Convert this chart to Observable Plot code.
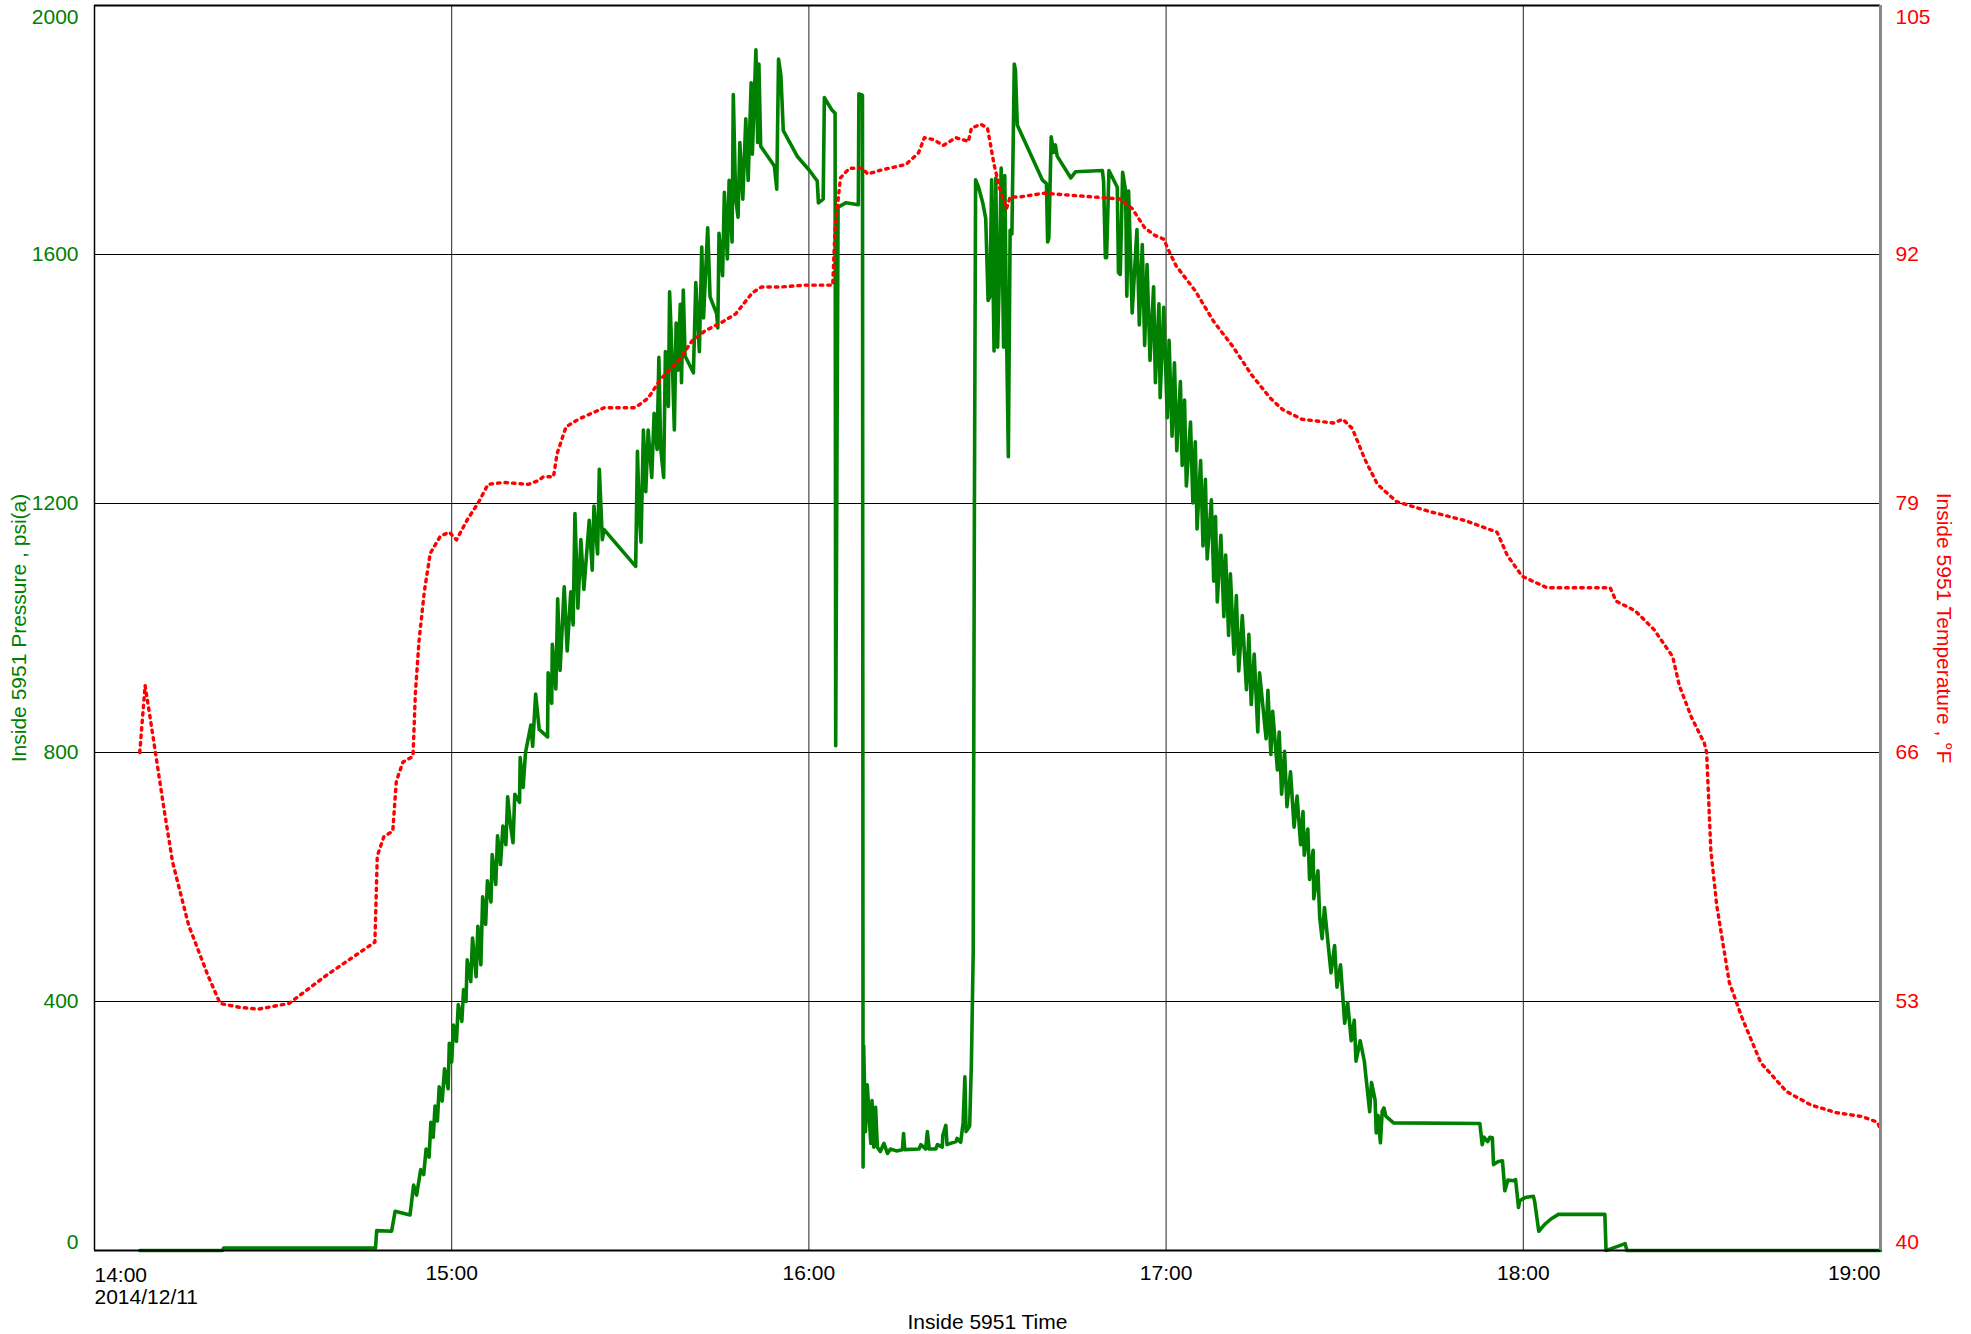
<!DOCTYPE html>
<html>
<head>
<meta charset="utf-8">
<script src="https://cdn.jsdelivr.net/npm/d3@7"></script>
<script src="https://cdn.jsdelivr.net/npm/@observablehq/plot@0.6"></script>
<style>
  html, body { margin: 0; padding: 0; background: #fff; }
  #chart svg { display: block; }
</style>
</head>
<body>
<div id="chart"></div>
<script>
// ---- data (minutes after 14:00 on 2014/12/11) ----
const pressureSeries = [ // [minute, psi(a)]
  [7.6,0],[21.5,0],[21.7,4],[47.2,4],[47.4,32],[49.9,31],[50.5,63],[53.0,57],[53.6,105],[54.1,89],
  [54.8,130],[55.3,122],[55.7,163],[56.2,150],[56.5,206],[56.9,182],[57.2,232],[57.6,208],[57.9,263],[58.4,240],
  [58.8,292],[59.4,260],[59.6,333],[60.0,303],[60.3,362],[60.8,336],[61.1,395],[61.7,368],[62.0,419],[62.4,400],
  [62.6,467],[63.2,432],[63.5,502],[64.1,440],[64.4,521],[64.9,459],[65.2,568],[65.7,524],[66.0,594],[66.6,560],
  [66.8,636],[67.4,588],[67.7,666],[68.2,620],[68.6,682],[69.1,652],[69.4,729],[69.9,682],[70.3,655],[70.6,733],
  [71.4,720],[71.5,792],[72.0,744],[72.4,800],[73.3,844],[73.6,810],[74.1,894],[74.7,837],[76.1,825],[76.2,928],
  [76.8,879],[76.9,974],[77.5,902],[77.8,1047],[78.2,932],[78.9,1066],[79.4,963],[80.0,1058],[80.4,1005],[80.7,1184],
  [81.2,1032],[81.7,1142],[82.2,1062],[83.1,1173],[83.6,1093],[83.9,1196],[84.5,1119],[84.8,1255],[85.3,1142],[85.6,1158],
  [90.9,1099],[91.2,1284],[91.5,1184],[91.8,1138],[92.2,1318],[92.6,1219],[93.0,1318],[93.6,1242],[94.0,1345],[94.5,1287],
  [94.8,1435],[95.1,1290],[95.6,1242],[95.9,1444],[96.4,1356],[96.6,1540],[97.1,1414],[97.4,1318],[97.7,1490],[98.0,1414],
  [98.4,1520],[98.6,1394],[98.9,1543],[99.2,1437],[100.6,1410],[101.0,1555],[101.6,1444],[102.0,1612],[102.3,1498],[103.0,1643],
  [103.4,1532],[104.5,1505],[104.7,1482],[104.9,1634],[105.5,1566],[105.8,1700],[106.3,1593],[106.6,1719],[107.1,1620],[107.3,1857],
  [107.7,1689],[108.1,1660],[108.4,1780],[108.9,1689],[109.4,1818],[109.8,1719],[110.3,1876],[110.5,1761],[111.1,1929],[111.4,1780],
  [111.6,1906],[111.9,1774],[114.2,1742],[114.6,1705],[114.9,1914],[115.3,1887],[115.7,1799],[118.1,1757],[120.1,1735],[121.4,1718],
  [121.6,1683],[122.4,1689],[122.6,1852],[123.8,1833],[124.4,1827],[124.5,811],[124.9,1676],[126.2,1683],[128.3,1680],[128.4,1858],
  [129.0,1856],[129.1,134],[129.2,329],[129.5,191],[129.8,266],[130.4,172],[130.6,241],[130.9,166],[131.2,230],[131.5,166],
  [132.0,159],[132.6,172],[133.2,156],[133.7,163],[134.7,160],[135.7,162],[135.9,188],[136.1,162],[138.5,163],[138.8,170],
  [139.6,163],[139.9,191],[140.2,163],[141.3,163],[141.6,170],[142.4,166],[142.5,185],[143.0,201],[143.2,170],[144.7,175],
  [144.9,180],[145.5,174],[145.9,205],[146.2,279],[146.4,191],[147.0,200],[147.3,303],[147.6,479],[147.8,1194],[148.0,1720],
  [148.5,1708],[149.2,1683],[149.7,1658],[150.1,1526],[150.4,1532],[150.7,1720],[151.1,1445],[151.4,1723],[151.7,1451],[152.0,1570],
  [152.3,1739],[152.7,1451],[152.9,1727],[153.2,1476],[153.5,1275],[153.8,1639],[154.1,1633],[154.5,1906],[154.7,1896],[155.0,1808],
  [155.9,1789],[159.2,1720],[159.9,1714],[160.1,1620],[160.3,1626],[160.7,1789],[161.1,1764],[161.4,1776],[161.7,1758],[164.0,1723],
  [164.8,1733],[169.3,1735],[169.5,1717],[169.8,1595],[170.0,1595],[170.4,1735],[171.8,1708],[172.0,1571],[172.3,1568],[172.7,1732],
  [173.2,1702],[173.4,1533],[173.7,1702],[174.3,1506],[175.1,1640],[175.5,1487],[176.0,1616],[176.4,1454],[176.8,1584],[177.3,1430],
  [177.9,1548],[178.2,1394],[178.8,1521],[179.0,1370],[179.6,1515],[180.2,1338],[180.5,1462],[181.0,1308],[181.4,1426],[181.8,1285],
  [182.4,1396],[182.7,1261],[183.1,1366],[183.4,1228],[184.1,1331],[184.5,1201],[184.9,1299],[185.2,1159],[185.8,1269],[186.2,1132],
  [186.6,1239],[186.9,1111],[187.6,1206],[188.0,1075],[188.3,1179],[188.6,1042],[189.2,1149],[189.7,1018],[190.0,1117],[190.5,988],
  [190.8,1087],[191.4,958],[191.8,1052],[192.2,931],[192.8,1020],[193.5,901],[193.9,990],[194.3,877],[194.8,958],[195.4,833],
  [195.7,928],[196.8,822],[197.1,900],[197.6,797],[197.9,866],[198.7,772],[199.0,833],[199.4,733],[199.9,802],[200.3,713],
  [200.9,769],[201.5,680],[202.0,730],[202.6,652],[203.0,705],[203.2,635],[203.8,677],[204.1,596],[204.7,643],[204.8,565],
  [205.5,610],[205.8,535],[206.2,501],[206.6,551],[207.7,446],[208.3,490],[208.7,423],[209.3,459],[210.0,365],[210.5,398],
  [211.1,337],[211.6,370],[211.9,304],[212.6,337],[213.3,304],[213.6,276],[214.2,223],[214.5,270],[215.1,242],[215.3,189],
  [215.6,217],[216.0,173],[216.3,224],[216.6,229],[216.9,216],[218.2,205],[232.7,204],[233.1,170],[233.4,182],[234.0,175],
  [234.4,182],[234.8,181],[235.0,138],[235.8,143],[236.5,144],[236.9,96],[237.4,113],[238.3,112],[238.7,114],[239.2,69],
  [239.4,80],[240.3,85],[241.7,87],[241.9,79],[242.6,31],[243.6,42],[244.7,51],[245.9,58],[253.7,58],[253.9,0],
  [254.8,3],[257.1,11],[257.4,0],[300.0,0]
];

const temperatureSeries = [ // [minute, °F]
  [7.6,66.0],[8.5,69.5],[9.5,67.5],[11.6,63.2],[13.1,60.3],[15.8,57.0],[19.0,54.4],[21.1,52.9],[24.3,52.7],[27.5,52.6],
  [32.7,52.9],[39.1,54.4],[47.1,56.1],[47.5,60.6],[48.6,61.6],[50.1,61.9],[50.7,64.5],[51.8,65.5],[53.5,65.8],[53.9,69.1],
  [54.5,71.8],[55.4,74.4],[56.4,76.4],[58.1,77.3],[59.6,77.5],[60.8,77.1],[62.7,78.2],[64.4,79.0],[66.1,80.0],[68.7,80.1],
  [72.9,80.0],[74.6,80.2],[75.4,80.4],[77.1,80.4],[77.7,81.6],[79.2,83.0],[81.3,83.4],[85.6,84.0],[90.8,84.0],[93.0,84.5],
  [95.1,85.5],[98.2,86.5],[100.4,87.5],[102.5,88.0],[105.6,88.5],[107.7,88.9],[110.5,90.0],[112.0,90.3],[115.1,90.3],[119.3,90.4],
  [124.0,90.4],[124.4,93.4],[125.3,96.0],[126.8,96.5],[128.9,96.5],[129.9,96.2],[132.0,96.4],[136.3,96.7],[138.4,97.3],[139.4,98.1],
  [140.9,98.0],[142.6,97.7],[144.7,98.1],[146.8,97.9],[147.3,98.6],[148.9,98.8],[150.0,98.6],[151.1,96.7],[152.1,95.4],[153.2,94.4],
  [153.8,95.0],[155.3,95.0],[159.5,95.2],[163.7,95.1],[168.0,95.0],[172.2,94.9],[174.3,94.4],[176.4,93.4],[178.1,93.0],[179.6,92.8],
  [180.6,92.1],[181.7,91.4],[184.9,90.1],[188.0,88.5],[191.2,87.2],[194.4,85.7],[197.5,84.5],[199.6,83.9],[202.8,83.4],[208.1,83.2],
  [209.7,83.4],[211.3,82.9],[213.4,81.3],[215.5,80.0],[218.7,79.1],[224.0,78.6],[230.3,78.1],[235.6,77.5],[237.3,76.3],[239.8,75.2],
  [244.0,74.6],[254.6,74.6],[255.6,73.9],[258.8,73.4],[262.0,72.4],[265.1,71.0],[266.2,69.5],[268.3,67.8],[270.4,66.5],[270.8,66.0],
  [271.5,60.9],[272.5,58.0],[274.6,54.0],[276.8,52.1],[279.9,49.8],[284.2,48.3],[288.3,47.6],[292.5,47.2],[296.8,47.0],[299.5,46.7],
  [300.0,46.3]
];

const pressureTicks = [0, 400, 800, 1200, 1600, 2000];
const temperatureTicks = [40, 53, 66, 79, 92, 105];
const timeTickHours = [14, 15, 16, 17, 18, 19];
const timeTickLabels = ["14:00\n2014/12/11", "15:00", "16:00", "17:00", "18:00", "19:00"];

const xTitle = "Inside 5951 Time";
const yLeftTitle = "Inside 5951 Pressure , psi(a)";
const yRightTitle = "Inside 5951 Temperature , °F";

// ---- helpers ----
const t0 = Date.UTC(2014, 11, 11, 14, 0);
const atMinute = m => new Date(t0 + m * 60000);
const atHour = h => new Date(Date.UTC(2014, 11, 11, h, 0));
// right axis (40..105 °F) shares the plot height with left axis (0..2000 psi)
const tMin = temperatureTicks[0], tMax = temperatureTicks[temperatureTicks.length - 1];
const pMax = pressureTicks[pressureTicks.length - 1];
const tempToY = t => (t - tMin) / (tMax - tMin) * pMax;

const GREEN = "#008000", RED = "#ff0000";
const timeTicks = timeTickHours.map(atHour);
const timeLabel = new Map(timeTicks.map((d, i) => [+d, timeTickLabels[i]]));

const chart = Plot.plot({
  width: 1971,
  height: 1334,
  marginLeft: 94,
  marginRight: 91,
  marginTop: 5,
  marginBottom: 84,
  style: { fontFamily: "'Liberation Sans', Arial, sans-serif", fontSize: "21px", background: "#fff", overflow: "visible" },
  x: { type: "utc", domain: [timeTicks[0], timeTicks[timeTicks.length - 1]], axis: null },
  y: { domain: [0, pMax], axis: null },
  marks: [
    Plot.gridY(pressureTicks.slice(1, -1), { stroke: "#000", strokeOpacity: 1, strokeWidth: 1 }),
    Plot.gridX(timeTicks.slice(1, -1), { stroke: "#222", strokeOpacity: 1, strokeWidth: 1 }),
    Plot.line(pressureSeries, { x: d => atMinute(d[0]), y: d => d[1], stroke: GREEN, strokeWidth: 3.6, strokeLinejoin: "round" }),
    Plot.line(temperatureSeries, { x: d => atMinute(d[0]), y: d => tempToY(d[1]), stroke: RED, strokeWidth: 3.4, strokeDasharray: "2.5,5", strokeLinecap: "round" }),
    // frame
    Plot.ruleY([0], { stroke: "#000", strokeWidth: 2 }),
    Plot.ruleY([pMax], { stroke: "#000", strokeWidth: 2 }),
    Plot.ruleX([timeTicks[0]], { stroke: "#000", strokeWidth: 1.5 }),
    Plot.ruleX([timeTicks[timeTicks.length - 1]], { stroke: "#888", strokeWidth: 3 }),
    // left tick labels
    Plot.text(pressureTicks.slice(1, -1), { y: d => d, text: d => String(d), frameAnchor: "left", dx: -16, textAnchor: "end", fill: GREEN }),
    Plot.text(pressureTicks.slice(-1), { y: d => d, text: d => String(d), frameAnchor: "left", dx: -16, dy: 12, textAnchor: "end", fill: GREEN }),
    Plot.text(pressureTicks.slice(0, 1), { y: d => d, text: d => String(d), frameAnchor: "left", dx: -16, dy: -8, textAnchor: "end", fill: GREEN }),
    // right tick labels
    Plot.text(temperatureTicks.slice(1, -1), { y: d => tempToY(d), text: d => String(d), frameAnchor: "right", dx: 15, textAnchor: "start", fill: RED }),
    Plot.text(temperatureTicks.slice(-1), { y: d => tempToY(d), text: d => String(d), frameAnchor: "right", dx: 15, dy: 12, textAnchor: "start", fill: RED }),
    Plot.text(temperatureTicks.slice(0, 1), { y: d => tempToY(d), text: d => String(d), frameAnchor: "right", dx: 15, dy: -8, textAnchor: "start", fill: RED }),
    // x tick labels
    Plot.text(timeTicks.slice(0, 1), { x: d => d, text: d => timeLabel.get(+d), frameAnchor: "bottom", dy: 15, lineAnchor: "top", lineHeight: 1.08, textAnchor: "start", fill: "#000" }),
    Plot.text(timeTicks.slice(1, -1), { x: d => d, text: d => timeLabel.get(+d), frameAnchor: "bottom", dy: 15, lineAnchor: "top", textAnchor: "middle", fill: "#000" }),
    Plot.text(timeTicks.slice(-1), { x: d => d, text: d => timeLabel.get(+d), frameAnchor: "bottom", dy: 15, lineAnchor: "top", textAnchor: "end", fill: "#000" }),
    // axis titles
    Plot.text([xTitle], { text: d => d, frameAnchor: "bottom", dy: 78, lineAnchor: "bottom", textAnchor: "middle", fill: "#000" }),
    Plot.text([yLeftTitle], { text: d => d, frameAnchor: "left", dx: -75, rotate: -90, lineAnchor: "middle", textAnchor: "middle", fill: GREEN }),
    Plot.text([yRightTitle], { text: d => d, frameAnchor: "right", dx: 63, rotate: 90, lineAnchor: "middle", textAnchor: "middle", fill: RED })
  ]
});
document.getElementById("chart").appendChild(chart);
</script>
</body>
</html>
